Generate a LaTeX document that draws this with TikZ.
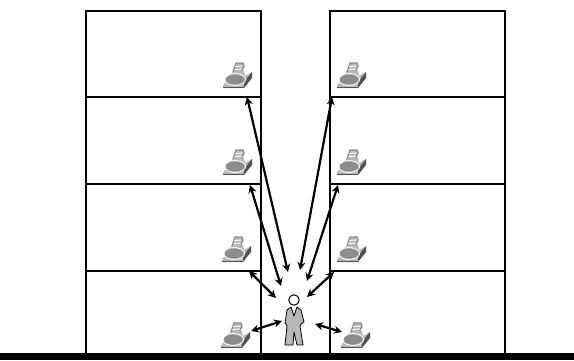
\documentclass[tikz,border=0pt]{standalone}
\usetikzlibrary{arrows.meta}
\definecolor{phonegrey}{gray}{0.55}
\definecolor{phonedark}{gray}{0.32}
\definecolor{phonelight}{gray}{0.72}
\tikzset{
  wall/.style={draw=black,line width=2.3pt},
  link/.style={draw=black,line width=2.2pt,{Stealth[length=8pt,width=8pt]}-{Stealth[length=8pt,width=8pt]}},
  phone/.pic={
    % paper tray
    \draw[phonegrey,fill=phonelight,line width=1.3pt] (-5,-4) -- (-2,-13) -- (5,-13) -- (6,-10) -- (3,-3) -- cycle;
    \draw[white,line width=.9pt] (-3,-9.5) -- (4.5,-10) (-3.5,-6.5) -- (4,-7);
    % body
    \fill[phonelight] (-15,10) -- (-8,-2) -- (-3,-5) -- (6,-5) -- (7,0) -- (14,-4) -- (14,1) -- (6,8) -- (6,12) -- (-15,12) -- cycle;
    \fill[phonedark] (6,12) -- (6,6) -- (14,-4) -- (14,2) -- cycle;
    \draw[phonedark,line width=1pt] (-15,11.3) -- (6,11.3);
    \fill[phonegrey] (-3,3.5) ellipse [x radius=9.5,y radius=5];
    \draw[white,line width=.8pt] (-3,3.5) ellipse [x radius=10.7,y radius=6];
  },
}
\begin{document}
\begin{tikzpicture}[x=1pt,y=-1pt]
\useasboundingbox (0,0) rectangle (574,360);
\fill[white] (0,0) rectangle (574,360);
% buildings
\node[wall,anchor=north west,minimum width=174.5pt,minimum height=86pt,inner sep=0pt] (L4) at (85,9.5) {};
\node[wall,anchor=north west,minimum width=174.5pt,minimum height=87pt,inner sep=0pt] (L3) at (85,95.5) {};
\node[wall,anchor=north west,minimum width=174.5pt,minimum height=87pt,inner sep=0pt] (L2) at (85,182.5) {};
\node[wall,anchor=north west,minimum width=174.5pt,minimum height=84pt,inner sep=0pt] (L1) at (85,269.5) {};
\node[wall,anchor=north west,minimum width=174.5pt,minimum height=86pt,inner sep=0pt] (R4) at (329,9.5) {};
\node[wall,anchor=north west,minimum width=174.5pt,minimum height=87pt,inner sep=0pt] (R3) at (329,95.5) {};
\node[wall,anchor=north west,minimum width=174.5pt,minimum height=87pt,inner sep=0pt] (R2) at (329,182.5) {};
\node[wall,anchor=north west,minimum width=174.5pt,minimum height=84pt,inner sep=0pt] (R1) at (329,269.5) {};
% ground
\fill[black] (0,353) rectangle (574,360);
% phones
\pic at (238,76) {phone};
\pic at (238,163) {phone};
\pic at (237,250) {phone};
\pic at (236,336) {phone};
\pic at (352,76) {phone};
\pic at (352,163) {phone};
\pic at (352,250) {phone};
\pic at (356,336) {phone};
% person
\fill[phonelight] (287,310) -- (291,307) -- (294,313) -- (297,307) -- (301,310) -- (304,322) -- (301,324) -- (300,326) -- (303,345) -- (297,345) -- (294,332) -- (293,345) -- (285,345) -- (287,326) -- (286,324) -- (285,323) -- cycle;
\fill[white] (291,307) -- (294,316) -- (297,307) -- cycle;
\draw[black,line width=.8pt,line join=round] (287,310) -- (291,307) -- (294,316) -- (297,307) -- (301,310) -- (304,322) -- (301,324) -- (300,326) -- (303,345) -- (297,345) -- (294,332) -- (293,345) -- (285,345) -- (287,326) -- (286,324) -- (285,323) -- cycle;
\node[circle,draw=black,fill=white,line width=1pt,minimum size=10.5pt,inner sep=0pt] (head) at (294,300) {};
% link ends
\coordinate (a1) at (247,97); \coordinate (a2) at (288,272);
\coordinate (b1) at (250,185); \coordinate (b2) at (281,286);
\coordinate (c1) at (332,97); \coordinate (c2) at (300,270);
\coordinate (d1) at (338,185); \coordinate (d2) at (307,281);
\coordinate (e1) at (249,271); \coordinate (e2) at (276,298);
\coordinate (f1) at (334,272); \coordinate (f2) at (307,297);
\coordinate (g1) at (251,331); \coordinate (g2) at (282,321);
\coordinate (h1) at (315,324); \coordinate (h2) at (342,332);
\foreach \p/\q in {a1/a2,b1/b2,c1/c2,d1/d2,e1/e2,f1/f2,g1/g2,h1/h2} \draw[link] (\p) -- (\q);
\end{tikzpicture}
\end{document}
